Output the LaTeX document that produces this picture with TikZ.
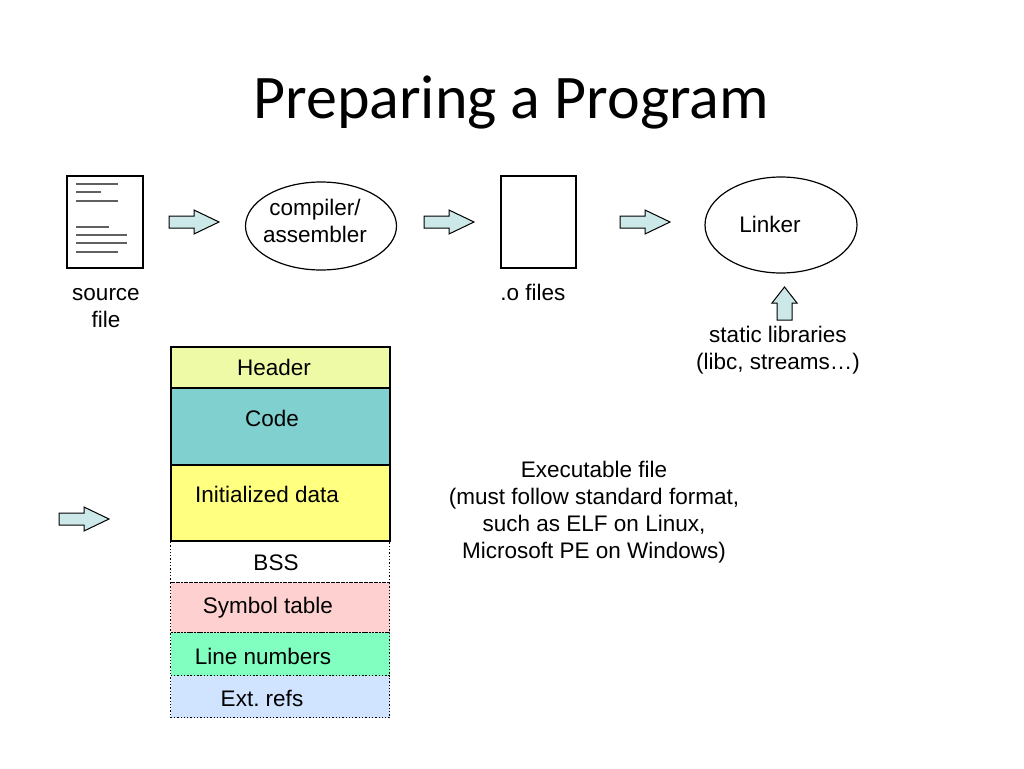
\documentclass[tikz,border=0pt]{standalone}
\usepackage{fontspec}
\setmainfont{Liberation Sans}
\newfontfamily\titlefont{Carlito}
\usetikzlibrary{shapes.geometric}
\definecolor{arrowfill}{HTML}{CCE8E8}
\definecolor{hdrfill}{HTML}{EEFAA5}
\definecolor{codefill}{HTML}{80D0D0}
\definecolor{initfill}{HTML}{FFFF80}
\definecolor{symfill}{HTML}{FFD0D0}
\definecolor{linefill}{HTML}{80FFC0}
\definecolor{extfill}{HTML}{D0E4FF}
\definecolor{doclines}{HTML}{606060}
\tikzset{
  lbl/.style={font=\fontsize{22.5}{27}\selectfont, anchor=base, inner sep=0pt},
  ttl/.style={font=\titlefont\fontsize{62}{70}\selectfont, anchor=base, inner sep=0pt},
  blockarrow/.style={draw=black, fill=arrowfill, line width=1pt, line join=miter},
  shapebox/.style={draw=black, line width=1.2pt},
  solidsec/.style={draw=black, line width=2.2pt},
  dotsec/.style={draw=black, line width=1.3pt, dotted},
  doclinestyle/.style={draw=doclines, line width=1.3pt}
}
\begin{document}
\frenchspacing
\begin{tikzpicture}[x=1pt,y=-1pt]
\useasboundingbox (0,0) rectangle (1024,768);
\fill[white] (0,0) rectangle (1024,768);

% title
\node[ttl] (title) at (511,118) {Preparing a Program};

% source file
\node[shapebox, fill=white, minimum width=76pt, minimum height=92pt, inner sep=0pt] (src) at (105,222) {};
\draw[doclinestyle] (76,184) -- (118,184);
\draw[doclinestyle] (76,192) -- (101,192);
\draw[doclinestyle] (76,201) -- (118,201);
\draw[doclinestyle] (76,227) -- (109,227);
\draw[doclinestyle] (76,235) -- (127,235);
\draw[doclinestyle] (76,243) -- (127,243);
\draw[doclinestyle] (76,252) -- (118,252);
\node[lbl] (srcl1) at (106,300) {source};
\node[lbl] (srcl2) at (106,327) {file};

% compiler ellipse
\node[ellipse, shapebox, minimum width=151pt, minimum height=88pt, inner sep=0pt] (comp) at (321,226) {};
\node[lbl] (compl1) at (315,215) {compiler/};
\node[lbl] (compl2) at (315,242) {assembler};

% .o files
\node[shapebox, fill=white, minimum width=75pt, minimum height=92pt, inner sep=0pt] (obj) at (538.5,222) {};
\node[lbl] (objl) at (533,300) {.o files};

% linker ellipse
\node[ellipse, shapebox, minimum width=152pt, minimum height=96pt, inner sep=0pt] (link) at (781,225) {};
\node[lbl] (linkl) at (770,232) {Linker};

% static libraries
\node[lbl] (libl1) at (778,342) {static libraries};
\node[lbl] (libl2) at (778,369) {(libc, streams\ldots)};

% horizontal block arrows
\foreach \x in {169,424,620} {
  \draw[blockarrow] (\x,216) -- (\x+25,216) -- (\x+25,210) -- (\x+50,222) -- (\x+25,234) -- (\x+25,228) -- (\x,228) -- cycle;
}
% up arrow
\draw[blockarrow] (777,320) -- (777,303) -- (772,303) -- (784.5,287) -- (797,303) -- (792,303) -- (792,320) -- cycle;
% left arrow
\draw[blockarrow] (59,513) -- (84,513) -- (84,507) -- (109,519) -- (84,531) -- (84,525) -- (59,525) -- cycle;

% executable sections (dotted first, solid on top)
\node[dotsec, fill=white, minimum width=219pt, minimum height=42pt, inner sep=0pt, anchor=north west] (bss) at (170,539.5) {};
\node[dotsec, fill=symfill, minimum width=219pt, minimum height=50pt, inner sep=0pt, anchor=north west] (sym) at (170,582) {};
\node[dotsec, fill=linefill, minimum width=219pt, minimum height=43pt, inner sep=0pt, anchor=north west] (lnum) at (170,632) {};
\node[dotsec, fill=extfill, minimum width=219pt, minimum height=42pt, inner sep=0pt, anchor=north west] (ext) at (170,675) {};
\node[solidsec, fill=hdrfill, minimum width=219pt, minimum height=41pt, inner sep=0pt, anchor=north west] (hdr) at (170,345.5) {};
\node[solidsec, fill=codefill, minimum width=219pt, minimum height=77pt, inner sep=0pt, anchor=north west] (code) at (170,386.5) {};
\node[solidsec, fill=initfill, minimum width=219pt, minimum height=76pt, inner sep=0pt, anchor=north west] (init) at (170,463.5) {};

\node[lbl] (hdrl) at (274,375) {Header};
\node[lbl] (codel) at (272,426) {Code};
\node[lbl] (initl) at (267,502) {Initialized data};
\node[lbl] (bssl) at (276,570) {BSS};
\node[lbl] (syml) at (268,613) {Symbol table};
\node[lbl] (lnuml) at (263,664) {Line numbers};
\node[lbl] (extl) at (262,706) {Ext. refs};

% executable description
\node[lbl] (ex1) at (594,477) {Executable file};
\node[lbl] (ex2) at (594,504) {(must follow standard format,};
\node[lbl] (ex3) at (594,531) {such as ELF on Linux,};
\node[lbl] (ex4) at (594,558) {Microsoft PE on Windows)};
\end{tikzpicture}
\end{document}
